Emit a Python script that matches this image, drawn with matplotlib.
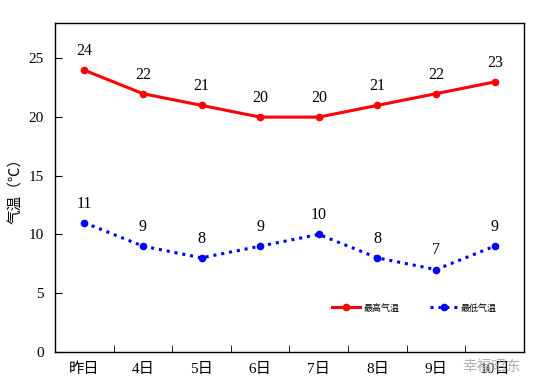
import matplotlib.pyplot as plt
from matplotlib.ticker import FixedLocator

plt.rcParams['font.family'] = ['Liberation Serif', 'Noto Sans CJK SC', 'DejaVu Sans']

days = ["昨日", "4日", "5日", "6日", "7日", "8日", "9日", "10日"]
high = [24, 22, 21, 20, 20, 21, 22, 23]
low = [11, 9, 8, 9, 10, 8, 7, 9]

fig = plt.figure(figsize=(5.37, 3.88), dpi=100)
ax = fig.add_axes([0.1024, 0.0936, 0.8734, 0.8464])

x = list(range(len(days)))
ax.plot(x, high, color="#ff0000", lw=2.2, marker="o", ms=4.5, label="最高气温")
ax.plot(x, low, color="#0000ff", lw=2.2, ls=(0, (1, 1.6)), marker="o", ms=4.5, label="最低气温")

# data labels above the points
for i, v in enumerate(high):
    ax.annotate(str(v), (i, v), xytext=(0, 8), textcoords="offset points",
                ha="center", va="bottom", fontsize=11.5)
for i, v in enumerate(low):
    ax.annotate(str(v), (i, v), xytext=(0, 8), textcoords="offset points",
                ha="center", va="bottom", fontsize=11.5)

ax.set_xlim(-0.5, 7.5)
ax.set_ylim(0, 28)
ax.set_yticks([0, 5, 10, 15, 20, 25])
ax.set_xticks(x)
ax.set_xticklabels(days, fontsize=11)
ax.tick_params(axis="x", which="major", length=0, pad=8)
ax.xaxis.set_minor_locator(FixedLocator([i + 0.5 for i in range(7)]))
ax.tick_params(axis="x", which="minor", direction="in", length=5)
ax.tick_params(axis="y", direction="in", length=5, labelsize=11, pad=8)
ax.set_ylabel("气温（℃）", fontsize=10.5, labelpad=4)

for s in ax.spines.values():
    s.set_linewidth(1.0)

ax.legend(loc="center right", bbox_to_anchor=(0.955, 0.133), ncol=2, frameon=False,
          fontsize=6.5, handlelength=3.1, columnspacing=3.4, handletextpad=0.3,
          borderpad=0.2)

fig.text(0.97, 0.055, "幸福昭东", color="#b0b0b0", fontsize=10.5, ha="right",
         va="center", family=["Noto Sans CJK SC"])

fig.savefig("out.png", dpi=100)
